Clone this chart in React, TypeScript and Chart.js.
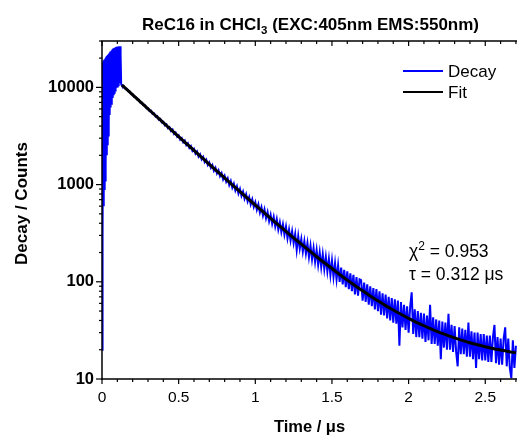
import React, { useEffect, useRef } from 'react';
import { Chart, registerables } from 'chart.js';

Chart.register(...registerables);

const FONT = '"Liberation Sans", Arial, Helvetica, sans-serif';

// ---- data ----
const X_MIN = 0;
const X_MAX = 2.707;
const Y_MIN = 10;
const Y_MAX = 30000;
const X_TICKS = [0, 0.5, 1, 1.5, 2, 2.5];
const Y_TICKS = [10, 100, 1000, 10000];

// instrument-response / rise region (time channels every 0.0025 µs from 0)
const RISE_START = 0;
const RISE_STEP = 0.0025;
const RISE_COUNTS = [
  20, 18000, 300, 18500, 600, 19000, 900, 19500, 1100, 20000,
  1500, 20500, 2000, 21000, 2600, 21500, 3200, 22000, 4000, 22500,
  5200, 23000, 6200, 23500, 6800, 24000, 7200, 24500, 7800, 25000,
  8300, 25200, 8800, 25500, 9300, 25700, 9600, 26000, 9900, 26200,
  10200, 26300, 10500, 26400, 10800, 26500, 11000, 26500, 11200, 22000,
  10800,
];

// decay region (time channels every 0.01 µs from 0.13)
const DECAY_START = 0.13;
const DECAY_STEP = 0.01;
const DECAY_COUNTS = [
  10450, 10400, 9750, 9700, 9150, 9080, 8580, 8500, 8010, 7950,
  7480, 7460, 6990, 6990, 6540, 6560, 6120, 6130, 5700, 5760,
  5330, 5400, 4990, 5060, 4650, 4740, 4360, 4430, 4060, 4170,
  3800, 3900, 3560, 3680, 3320, 3440, 3110, 3220, 2900, 3010,
  2720, 2840, 2540, 2660, 2380, 2490, 2220, 2330, 2080, 2190,
  1940, 2050, 1820, 1930, 1700, 1800, 1590, 1690, 1490, 1590,
  1390, 1490, 1300, 1400, 1220, 1310, 1130, 1230, 1070, 1160,
  990, 1090, 930, 1020, 870, 960, 810, 900, 765, 845,
  715, 795, 670, 745, 625, 705, 590, 660, 550, 625,
  515, 585, 480, 555, 450, 520, 420, 490, 395, 465,
  370, 440, 345, 410, 325, 390, 305, 370, 280, 345,
  265, 330, 250, 310, 212, 295, 220, 275, 205, 262,
  195, 250, 180, 235, 170, 222, 160, 212, 150, 200,
  142, 192, 135, 180, 128, 172, 118, 165, 112, 155,
  106, 148, 100, 140, 94, 133, 88, 128, 84, 122,
  80, 118, 74, 112, 72, 106, 104, 64, 98, 62,
  94, 58, 90, 56, 86, 52, 84, 50, 80, 46,
  76, 45, 74, 42, 70, 40, 68, 38, 66, 37,
  64, 22, 62, 34, 58, 32, 56, 30, 55, 78,
  29, 52, 27, 50, 27, 48, 26, 47, 24, 45,
  25, 58, 23, 43, 23, 41, 22, 40, 16, 39,
  21, 38, 20, 47, 20, 36, 19, 35, 19, 13.5,
  34, 18, 33, 18, 32, 17, 38, 17, 31, 16,
  30, 13, 30, 16, 29, 15.5, 29, 15.5, 28, 15,
  28, 15, 27, 36, 14.5, 27, 14, 26, 14, 26,
  34, 13.5, 26, 13, 10.2, 25, 13, 22,
];

const FIT_TIME = [
  0.13, 0.15, 0.2, 0.25, 0.3, 0.35, 0.4, 0.45, 0.5, 0.55,
  0.6, 0.65, 0.7, 0.75, 0.8, 0.85, 0.9, 0.95, 1.0, 1.05,
  1.1, 1.15, 1.2, 1.25, 1.3, 1.35, 1.4, 1.45, 1.5, 1.55,
  1.6, 1.65, 1.7, 1.75, 1.8, 1.85, 1.9, 1.95, 2.0, 2.05,
  2.1, 2.15, 2.2, 2.25, 2.3, 2.35, 2.4, 2.45, 2.5, 2.55,
  2.6, 2.65, 2.7,
];
const FIT_COUNTS = [
  10576, 9899, 8387, 7108, 6024, 5107, 4329, 3672, 3115, 2643,
  2243, 1905, 1618, 1375, 1170, 995, 847, 722, 616, 526,
  449, 385, 330, 283, 244, 210, 181, 157, 137, 119,
  104, 91.6, 80.7, 71.5, 63.7, 56.9, 51.2, 46.3, 42.0, 38.3,
  35.3, 32.6, 30.2, 28.3, 26.5, 25.0, 23.6, 22.5, 21.5, 20.6,
  19.9, 19.2, 18.6,
];

const TITLE_MAIN = 'ReC16 in CHCl';
const TITLE_SUB = '3';
const TITLE_REST = ' (EXC:405nm EMS:550nm)';
const X_TITLE = 'Time / μs';
const Y_TITLE = 'Decay / Counts';
const LEGEND_LABELS = ['Decay', 'Fit'];
const CHI_VALUE = '0.953';
const TAU_VALUE = '0.312';

const BLUE = '#0000ff';
const BLACK = '#000000';

type Part = { t: string; size: number; bold?: boolean; dy?: number };

function drawParts(ctx: CanvasRenderingContext2D, parts: Part[], x: number, y: number, align: 'left' | 'center') {
  const font = (p: Part) => `${p.bold ? 'bold ' : ''}${p.size}px ${FONT}`;
  let total = 0;
  const widths = parts.map((p) => {
    ctx.font = font(p);
    const w = ctx.measureText(p.t).width;
    total += w;
    return w;
  });
  let cx = align === 'center' ? x - total / 2 : x;
  ctx.textAlign = 'left';
  ctx.textBaseline = 'alphabetic';
  parts.forEach((p, i) => {
    ctx.font = font(p);
    ctx.fillText(p.t, cx, y + (p.dy || 0));
    cx += widths[i];
  });
}

const decorPlugin = {
  id: 'decor',
  afterDatasetsDraw(chart: any) {
    const { ctx, chartArea, scales } = chart;
    const { left, right, top, bottom } = chartArea;
    const xs = scales.x;
    const ys = scales.y;
    ctx.save();
    ctx.strokeStyle = BLACK;
    ctx.fillStyle = BLACK;
    ctx.lineWidth = 1.5;
    const line = (x1: number, y1: number, x2: number, y2: number) => {
      ctx.beginPath();
      ctx.moveTo(x1, y1);
      ctx.lineTo(x2, y2);
      ctx.stroke();
    };
    // axis lines
    line(left, top, left, bottom + 0.75);
    line(left - 0.75, bottom, right, bottom);
    line(left - 0.75, top, right, top);
    // x ticks (bottom outward, top inward)
    ctx.lineWidth = 1.2;
    for (let k = 0; k <= 27; k++) {
      const v = k / 10;
      const px = xs.getPixelForValue(v);
      const len = k % 5 === 0 ? 5 : 3;
      line(px, bottom, px, bottom + len);
      line(px, top, px, top + len);
    }
    // y ticks (outward)
    for (let d = 1; d <= 4; d++) {
      for (let m = 1; m <= 9; m++) {
        const v = m * Math.pow(10, d);
        if (v > Y_MAX) break;
        const py = ys.getPixelForValue(v);
        const len = m === 1 ? 6 : 3;
        line(left - len, py, left, py);
      }
    }
    // y axis title
    ctx.save();
    ctx.translate(26.5, 203.5);
    ctx.rotate(-Math.PI / 2);
    ctx.font = `bold 17px ${FONT}`;
    ctx.textAlign = 'center';
    ctx.textBaseline = 'alphabetic';
    ctx.fillText(Y_TITLE, 0, 0);
    ctx.restore();
    // title
    drawParts(
      ctx,
      [
        { t: TITLE_MAIN, size: 17, bold: true },
        { t: TITLE_SUB, size: 11.5, bold: true, dy: 4 },
        { t: TITLE_REST, size: 17, bold: true },
      ],
      (left + right) / 2 + 1,
      30,
      'center'
    );
    // legend
    const legendItems = [
      { label: LEGEND_LABELS[0], color: BLUE, y: 71 },
      { label: LEGEND_LABELS[1], color: BLACK, y: 92 },
    ];
    legendItems.forEach((it) => {
      ctx.strokeStyle = it.color;
      ctx.lineWidth = 2;
      line(403, it.y, 443, it.y);
      ctx.fillStyle = BLACK;
      ctx.font = `17px ${FONT}`;
      ctx.textAlign = 'left';
      ctx.textBaseline = 'middle';
      ctx.fillText(it.label, 448, it.y + 1);
    });
    // annotation
    ctx.fillStyle = BLACK;
    drawParts(
      ctx,
      [
        { t: 'χ', size: 17.5 },
        { t: '2', size: 12, dy: -7 },
        { t: ' = ' + CHI_VALUE, size: 17.5 },
      ],
      409,
      257,
      'left'
    );
    drawParts(ctx, [{ t: 'τ = ' + TAU_VALUE + ' μs', size: 17.5 }], 409, 280, 'left');
    ctx.restore();
  },
};

export default function App() {
  const canvasRef = useRef<HTMLCanvasElement | null>(null);

  useEffect(() => {
    const canvas = canvasRef.current;
    if (!canvas) return;

    const decayPoints: { x: number; y: number }[] = [];
    RISE_COUNTS.forEach((c, i) => {
      decayPoints.push({ x: +(RISE_START + i * RISE_STEP).toFixed(4), y: c });
    });
    DECAY_COUNTS.forEach((c, i) => {
      decayPoints.push({ x: +(DECAY_START + i * DECAY_STEP).toFixed(4), y: c });
    });
    const fitPoints = FIT_TIME.map((t, i) => ({ x: t, y: FIT_COUNTS[i] }));

    const chart = new Chart(canvas, {
      type: 'line',
      data: {
        datasets: [
          {
            label: LEGEND_LABELS[0],
            data: decayPoints,
            borderColor: BLUE,
            backgroundColor: BLUE,
            borderWidth: 2,
            pointRadius: 0,
            tension: 0,
            order: 2,
          },
          {
            label: LEGEND_LABELS[1],
            data: fitPoints,
            borderColor: BLACK,
            backgroundColor: BLACK,
            borderWidth: 3,
            pointRadius: 0,
            cubicInterpolationMode: 'monotone',
            order: 1,
          },
        ],
      },
      options: {
        animation: false,
        responsive: true,
        maintainAspectRatio: false,
        parsing: false as any,
        layout: { padding: { top: 41, left: 0, right: 0, bottom: 0 } },
        plugins: {
          legend: { display: false },
          title: { display: false },
          tooltip: { enabled: false },
        },
        scales: {
          x: {
            type: 'linear',
            position: 'bottom',
            min: X_MIN,
            max: X_MAX,
            grid: { display: false, drawTicks: false },
            border: { display: false },
            afterBuildTicks: (scale: any) => {
              scale.ticks = X_TICKS.map((v) => ({ value: v }));
            },
            afterFit: (scale: any) => {
              scale.height = 58;
            },
            ticks: {
              padding: 9,
              color: BLACK,
              font: { family: FONT, size: 15.5 },
              maxRotation: 0,
              autoSkip: false,
              callback: (v: any) => String(v),
            },
            title: {
              display: true,
              text: X_TITLE,
              color: BLACK,
              font: { family: FONT, size: 16.5, weight: 'bold' },
              padding: { top: 0, bottom: 0 },
            },
          },
          y: {
            type: 'logarithmic',
            position: 'left',
            min: Y_MIN,
            max: Y_MAX,
            grid: { display: false, drawTicks: false },
            border: { display: false },
            afterBuildTicks: (scale: any) => {
              scale.ticks = Y_TICKS.map((v) => ({ value: v }));
            },
            afterFit: (scale: any) => {
              scale.width = 102;
            },
            ticks: {
              padding: 8,
              color: BLACK,
              font: { family: FONT, size: 16.5, weight: 'bold' },
              autoSkip: false,
              callback: (v: any) => String(v),
            },
            title: { display: false },
          },
        },
      } as any,
      plugins: [decorPlugin],
    });

    return () => chart.destroy();
  }, []);

  return (
    <div style={{ position: 'fixed', left: 0, top: 0, width: 517, height: 437, background: '#fff' }}>
      <canvas ref={canvasRef} />
    </div>
  );
}
